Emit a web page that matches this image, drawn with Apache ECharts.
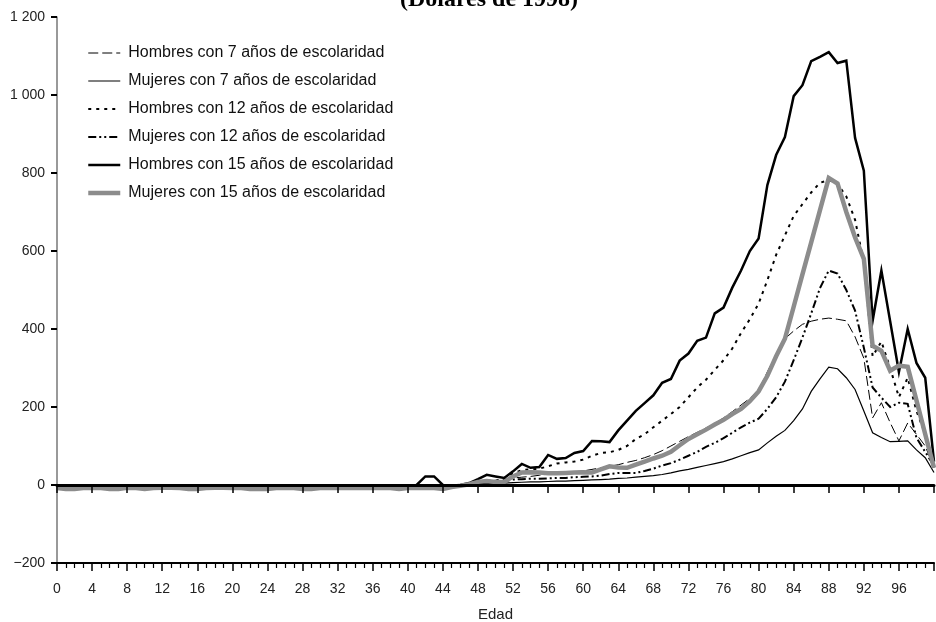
<!DOCTYPE html>
<html><head><meta charset="utf-8">
<script src="https://cdn.jsdelivr.net/npm/echarts@6/dist/echarts.min.js"></script>
<style>html,body{margin:0;padding:0;background:#fff}#c{width:936px;height:622px}</style>
</head><body><div id="c"></div>
<script>
const ages = [0,1,2,3,4,5,6,7,8,9,10,11,12,13,14,15,16,17,18,19,20,21,22,23,24,25,26,27,28,29,30,31,32,33,34,35,36,37,38,39,40,41,42,43,44,45,46,47,48,49,50,51,52,53,54,55,56,57,58,59,60,61,62,63,64,65,66,67,68,69,70,71,72,73,74,75,76,77,78,79,80,81,82,83,84,85,86,87,88,89,90,91,92,93,94,95,96,97,98,99,100];

const hombres7 = [
-5,-10,-10,-8,-6,-8,-12,-10,-6,-8,
-10,-8,-6,-6,-8,-10,-12,-8,-6,-6,
-8,-8,-10,-12,-10,-8,-8,-8,-10,-10,
-8,-8,-8,-8,-8,-8,-8,-8,-8,-10,
-8,-8,-8,-8,-10,-5,0,5,8,10,
12,15,18,20,22,25,28,30,32,34,
36,40,44,48,52,58,63,70,78,88,
100,112,124,135,146,158,172,188,205,222,
242,290,335,375,395,412,420,425,428,425,
421,380,325,172,211,160,113,159,130,100,44];

const mujeres7 = [
-3,-5,-5,-4,-3,-5,-6,-5,-3,-4,
-5,-4,-3,-3,-4,-5,-6,-4,-3,-3,
-4,-4,-5,-6,-5,-4,-4,-4,-5,-5,
-4,-4,-4,-4,-4,-4,-4,-4,-4,-5,
-4,-4,-4,-4,-5,-3,0,2,3,4,
5,5,6,7,8,8,9,10,10,11,
12,13,14,15,17,18,20,22,24,27,
31,36,40,45,50,55,60,67,75,83,
90,108,125,140,165,195,240,272,302,298,
275,245,190,134,122,111,112,113,90,70,32];

const hombres12 = [
-6,-8,-8,-6,-5,-6,-8,-8,-5,-6,
-8,-6,-5,-5,-6,-8,-8,-6,-5,-5,
-6,-6,-8,-8,-8,-6,-6,-6,-8,-8,
-6,-6,-6,-6,-6,-6,-6,-6,-6,-8,
-6,-6,-6,-6,-8,-5,-2,2,8,12,
10,18,30,38,40,42,48,55,58,60,
65,75,82,84,90,100,118,130,148,165,
182,200,225,250,270,295,320,350,390,425,
465,525,590,640,690,720,750,775,782,772,
740,680,570,330,368,300,225,275,190,130,50];

const mujeres12 = [
-7,-9,-9,-7,-6,-7,-9,-9,-6,-7,
-9,-7,-6,-6,-7,-9,-9,-7,-6,-6,
-7,-7,-9,-9,-9,-7,-7,-7,-9,-9,
-7,-7,-7,-7,-7,-7,-7,-7,-7,-9,
-7,-7,-7,-7,-9,-5,-3,0,3,6,
8,10,14,15,16,16,17,18,18,20,
21,22,24,28,31,31,31,36,42,50,
56,65,75,85,98,108,120,134,148,160,
170,195,225,265,320,378,440,505,550,542,
500,447,352,250,224,200,211,208,121,85,49];

const hombres15 = [
-3,-5,-5,-3,-3,-4,-5,-5,-3,-3,
-5,-3,-3,-3,-3,-5,-5,-3,-3,-3,
-3,-3,-5,-5,-5,-3,-3,-3,-5,-5,
-3,-3,-3,-3,-3,-3,-3,-3,-3,-4,
-3,0,22,22,0,-2,0,5,15,26,
22,18,35,54,44,46,77,67,69,82,
87,113,112,110,140,165,190,210,230,262,
272,319,337,370,378,440,455,506,550,600,
632,769,846,892,997,1025,1087,1098,1110,1082,
1088,890,806,421,550,420,290,400,313,275,60];

const mujeres15 = [
-8,-10,-10,-8,-7,-8,-10,-10,-7,-8,
-10,-8,-7,-7,-8,-10,-10,-8,-7,-7,
-8,-8,-10,-10,-10,-8,-8,-8,-10,-10,
-8,-8,-8,-8,-8,-8,-8,-8,-8,-10,
-8,-8,-8,-8,-10,-5,-2,2,8,10,
8,8,22,32,33,32,30,30,31,32,
33,32,40,48,45,44,52,60,68,75,
85,102,118,130,142,155,167,182,195,215,
240,280,330,375,457,540,622,705,787,773,
700,635,580,357,344,293,306,303,217,130,44];

const seriesNames = [
  'Hombres con 7 años de escolaridad',
  'Mujeres con 7 años de escolaridad',
  'Hombres con 12 años de escolaridad',
  'Mujeres con 12 años de escolaridad',
  'Hombres con 15 años de escolaridad',
  'Mujeres con 15 años de escolaridad'
];
const titleText = '(Dólares de 1998)';
const xName = 'Edad';
const yTicks = {min: -200, max: 1200, interval: 200};
const xTicks = {min: 0, max: 100, interval: 4};

const FONT = '"Liberation Sans", Arial, sans-serif';
const zip = arr => ages.map((a, i) => [a, arr[i]]);
const fmtY = v => {
  const s = String(Math.abs(v)).replace(/\B(?=(\d{3})+(?!\d))/g, ' ');
  return v < 0 ? '\u2212' + s : s;
};

const styles = [
  {color: '#000', width: 1, type: [10, 4]},
  {color: '#000', width: 1.2, type: 'solid'},
  {color: '#000', width: 2, type: [3, 5]},
  {color: '#000', width: 2, type: [8, 3, 2, 3, 2, 3]},
  {color: '#000', width: 2.5, type: 'solid'},
  {color: '#8c8c8c', width: 4.5, type: 'solid'}
];
const datasets = [hombres7, mujeres7, hombres12, mujeres12, hombres15, mujeres15];

const chart = echarts.init(document.getElementById('c'), null, {renderer: 'canvas'});
chart.setOption({
  animation: false,
  backgroundColor: '#fff',
  grid: {left: 57, right: 2, top: 17, bottom: 59, containLabel: false, outerBoundsMode: 'none'},
  graphic: [{
    type: 'text', x: 489, y: 12,
    style: {text: titleText, font: 'bold 24px "Liberation Serif", "Times New Roman", serif',
      fill: '#000', align: 'center', verticalAlign: 'bottom'}
  }],
  legend: {
    orient: 'vertical', left: 86, top: 45, padding: 0,
    itemWidth: 32, itemHeight: 14, itemGap: 12,
    itemStyle: {opacity: 0},
    lineStyle: {width: 'inherit'},
    textStyle: {fontSize: 16, lineHeight: 16, color: '#111', fontFamily: FONT, padding: [0, 0, 0, 3]},
    data: seriesNames
  },
  xAxis: [{
    type: 'value', position: 'bottom', min: xTicks.min, max: xTicks.max, interval: xTicks.interval,
    axisLine: {onZero: false, lineStyle: {color: '#000', width: 2}},
    axisTick: {show: true, length: 8, lineStyle: {color: '#000', width: 1.5}},
    minorTick: {show: true, splitNumber: 4, length: 5, lineStyle: {color: '#000', width: 1.2}},
    axisLabel: {margin: 19, color: '#222', fontSize: 14, fontFamily: FONT,
      formatter: v => (v === 100 ? '' : String(v))},
    splitLine: {show: false}, minorSplitLine: {show: false},
    name: xName, nameLocation: 'middle', nameGap: 44,
    nameTextStyle: {fontSize: 15, color: '#222', fontFamily: FONT}
  }, {
    type: 'value', position: 'bottom', min: xTicks.min, max: xTicks.max, interval: xTicks.interval,
    z: 5,
    axisLine: {onZero: true, lineStyle: {color: '#000', width: 3}},
    axisTick: {show: true, length: 8, lineStyle: {color: '#000', width: 1.5}},
    axisLabel: {show: false},
    splitLine: {show: false}
  }],
  yAxis: {
    type: 'value', min: yTicks.min, max: yTicks.max, interval: yTicks.interval,
    axisLine: {show: true, onZero: false, lineStyle: {color: '#777', width: 1.5}},
    axisTick: {show: true, length: 6, lineStyle: {color: '#000', width: 2}},
    axisLabel: {margin: 12, color: '#222', fontSize: 14, fontFamily: FONT, formatter: fmtY},
    splitLine: {show: false}
  },
  series: datasets.map((d, i) => ({
    name: seriesNames[i], type: 'line', xAxisIndex: 0, data: zip(d),
    symbol: 'none', showSymbol: false,
    lineStyle: {color: styles[i].color, width: styles[i].width, type: styles[i].type, cap: 'butt', join: 'miter'},
    itemStyle: {color: styles[i].color},
    emphasis: {disabled: true},
    z: 2 + i * 0.01
  }))
});
</script>
</body></html>
